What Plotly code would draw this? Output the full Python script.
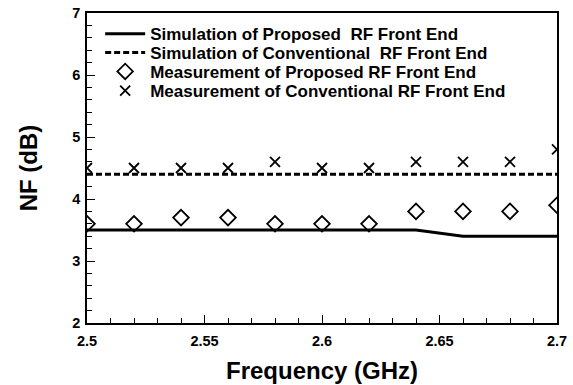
import plotly.graph_objects as go

freq = [2.5, 2.52, 2.54, 2.56, 2.58, 2.6, 2.62, 2.64, 2.66, 2.68, 2.7]
sim_prop_x = [2.5, 2.64, 2.66, 2.7]
sim_prop_y = [3.5, 3.5, 3.4, 3.4]
sim_conv_x = [2.5, 2.7]
sim_conv_y = [4.4, 4.4]
meas_prop = [3.6, 3.6, 3.7, 3.7, 3.6, 3.6, 3.6, 3.8, 3.8, 3.8, 3.9]
meas_conv = [4.5, 4.5, 4.5, 4.5, 4.6, 4.5, 4.5, 4.6, 4.6, 4.6, 4.8]
x_tickvals = [2.5, 2.55, 2.6, 2.65, 2.7]
x_ticktext = ["2.5", "2.55", "2.6", "2.65", "2.7"]
y_tickvals = [2, 3, 4, 5, 6, 7]
y_ticktext = ["2", "3", "4", "5", "6", "7"]
names = ["Simulation of Proposed  RF Front End",
         "Simulation of Conventional  RF Front End",
         "Measurement of Proposed RF Front End",
         "Measurement of Conventional RF Front End"]

fig = go.Figure()
fig.add_trace(go.Scatter(x=sim_prop_x, y=sim_prop_y, mode="lines", name=names[0],
                         legend="legend",
                         line=dict(color="black", width=3)))
fig.add_trace(go.Scatter(x=sim_conv_x, y=sim_conv_y, mode="lines", name=names[1],
                         legend="legend2",
                         line=dict(color="black", width=3, dash="6px,3px")))
fig.add_trace(go.Scatter(x=freq, y=meas_prop, mode="markers", name=names[2],
                         legend="legend3",
                         marker=dict(symbol="diamond-open", size=12, color="black",
                                     line=dict(width=1.8, color="black"))))
fig.add_trace(go.Scatter(x=freq, y=meas_conv, mode="markers", name=names[3],
                         legend="legend4",
                         marker=dict(symbol="x-thin-open", size=10, color="black",
                                     line=dict(width=1.8, color="black"))))

tickfont = dict(family="Liberation Sans", size=14.5, color="black", weight="bold")
axis_common = dict(showgrid=False, zeroline=False, showline=True, linecolor="black",
                   linewidth=1.5, mirror=True, ticks="inside", ticklen=8,
                   tickwidth=1.3, tickcolor="black", tickfont=tickfont, tickmode="array",
                   automargin=False)

fig.update_xaxes(range=[2.5, 2.7], tickvals=x_tickvals, ticktext=x_ticktext,
                 ticklabelstandoff=4,
                 minor=dict(tick0=2.5, dtick=0.01, ticks="inside", ticklen=5,
                            tickwidth=1.3, tickcolor="black", showgrid=False),
                 title=dict(text="Frequency (GHz)", standoff=14,
                            font=dict(family="Liberation Sans", size=24, color="black", weight="bold")),
                 **axis_common)
fig.update_yaxes(range=[2, 7], tickvals=y_tickvals, ticktext=y_ticktext,
                 ticklabelstandoff=2,
                 minor=dict(tick0=2, dtick=0.2, ticks="inside", ticklen=5,
                            tickwidth=1.3, tickcolor="black", showgrid=False),
                 title=dict(text="NF (dB)", standoff=28,
                            font=dict(family="Liberation Sans", size=24, color="black", weight="bold")),
                 **axis_common)

leg_font = dict(family="Liberation Sans", size=17, color="black", weight="bold")
leg_common = dict(x=0.028, xanchor="left", yanchor="middle", bgcolor="rgba(0,0,0,0)",
                  itemwidth=40, font=leg_font, borderwidth=0)
leg_y = [0.932, 0.871, 0.810, 0.748]

fig.update_layout(
    width=573, height=385,
    margin=dict(l=87, r=16, t=13, b=62),
    plot_bgcolor="white", paper_bgcolor="white",
    showlegend=True,
    legend=dict(y=leg_y[0], **leg_common),
    legend2=dict(y=leg_y[1], **leg_common),
    legend3=dict(y=leg_y[2], **leg_common),
    legend4=dict(y=leg_y[3], **leg_common),
)

fig.write_html("out.html")
